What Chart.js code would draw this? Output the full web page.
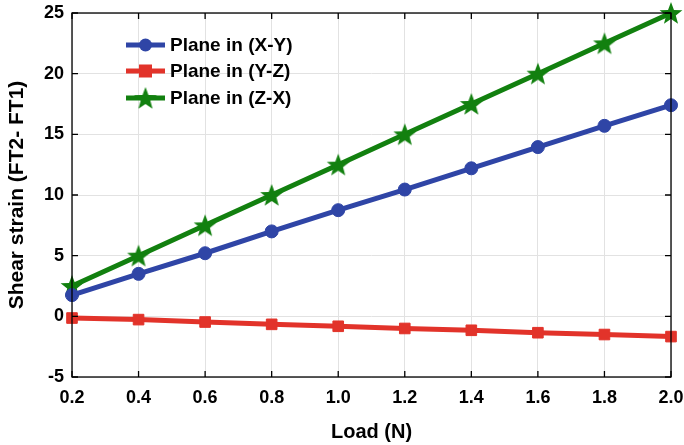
<!DOCTYPE html>
<html><head><meta charset="utf-8">
<script src="https://cdn.jsdelivr.net/npm/chart.js@4/dist/chart.umd.min.js"></script>
<style>html,body{margin:0;padding:0;background:#fff}#wrap{width:684px;height:445px}</style>
</head><body><div id="wrap"><canvas id="c" width="684" height="445"></canvas></div>
<script>
const loads = [0.2,0.4,0.6,0.8,1.0,1.2,1.4,1.6,1.8,2.0];
const planeXY = [1.75,3.5,5.2,7.0,8.75,10.45,12.2,13.95,15.7,17.4];
const planeYZ = [-0.14,-0.27,-0.47,-0.66,-0.82,-1.0,-1.15,-1.35,-1.5,-1.67];
const planeZX = [2.5,5.0,7.5,10.0,12.5,15.0,17.5,20.0,22.5,25.0];
const seriesNames = ['Plane in (X-Y)','Plane in (Y-Z)','Plane in (Z-X)'];
const xTitle = 'Load (N)';
const yTitle = 'Shear strain (FT2- FT1)';

const BLUE='#2f45a6', RED='#e2332a', GREEN='#12800f';
const FONT='"Liberation Sans", Arial, sans-serif';

function makeStar(color, R){
  const s=Math.ceil(R*2+2), c=document.createElement('canvas');
  c.width=s;c.height=s;const g=c.getContext('2d');
  const cx=s/2, cy=s/2+1, r=R*0.42;
  g.beginPath();
  for(let i=0;i<10;i++){
    const a=-Math.PI/2+i*Math.PI/5, rr=i%2?r:R;
    g.lineTo(cx+rr*Math.cos(a), cy+rr*Math.sin(a));
  }
  g.closePath();g.fillStyle=color;g.fill();
  return c;
}
const star=makeStar(GREEN,12);

const pts=a=>a.map((v,i)=>({x:loads[i],y:v}));

const frame={
  id:'frame',
  afterDraw(chart){
    const {ctx,chartArea:a,scales:{x,y}}=chart;
    ctx.save();
    ctx.strokeStyle='#000';ctx.lineWidth=1.3;
    ctx.strokeRect(a.left,a.top,a.right-a.left,a.bottom-a.top);
    const L=6;
    ctx.beginPath();
    x.ticks.forEach(t=>{const p=x.getPixelForValue(t.value);
      ctx.moveTo(p,a.bottom);ctx.lineTo(p,a.bottom-L);
      ctx.moveTo(p,a.top);ctx.lineTo(p,a.top+L);});
    y.ticks.forEach(t=>{const p=y.getPixelForValue(t.value);
      ctx.moveTo(a.left,p);ctx.lineTo(a.left+L,p);
      ctx.moveTo(a.right,p);ctx.lineTo(a.right-L,p);});
    ctx.stroke();
    // legend
    const lx=126, lw=39, ty=[45,71,98];
    chart.data.datasets.forEach((d,i)=>{
      const yy=ty[i];
      ctx.strokeStyle=d.borderColor;ctx.lineWidth=5;
      ctx.beginPath();ctx.moveTo(lx,yy);ctx.lineTo(lx+lw,yy);ctx.stroke();
      const mx=lx+lw/2;
      if(d.pointStyle==='circle'){ctx.fillStyle=d.borderColor;ctx.beginPath();ctx.arc(mx,yy,6.5,0,Math.PI*2);ctx.fill();}
      else if(d.pointStyle==='rect'){ctx.fillStyle=d.borderColor;ctx.fillRect(mx-6.5,yy-6.5,13,13);}
      else {ctx.drawImage(d.pointStyle,mx-d.pointStyle.width/2,yy-d.pointStyle.height/2);}
      ctx.fillStyle='#000';ctx.font='bold 19px '+FONT;ctx.textBaseline='middle';ctx.textAlign='left';
      ctx.fillText(d.label,lx+lw+5,yy+1);
    });
    ctx.restore();
  }
};

new Chart(document.getElementById('c'),{
  type:'line',
  data:{datasets:[
    {label:seriesNames[0],data:pts(planeXY),borderColor:BLUE,backgroundColor:BLUE,borderWidth:5,pointStyle:'circle',pointRadius:6.5,pointBorderWidth:1,pointBackgroundColor:BLUE,pointBorderColor:BLUE,clip:false},
    {label:seriesNames[1],data:pts(planeYZ),borderColor:RED,backgroundColor:RED,borderWidth:5,pointStyle:'rect',pointRadius:7.5,pointBorderWidth:1,pointBackgroundColor:RED,pointBorderColor:RED,clip:false},
    {label:seriesNames[2],data:pts(planeZX),borderColor:GREEN,backgroundColor:GREEN,borderWidth:5,pointStyle:star,pointRadius:12,clip:false}
  ]},
  options:{
    responsive:false,animation:false,
    layout:{autoPadding:false,padding:{top:13,right:13,left:0,bottom:0}},
    plugins:{legend:{display:false},tooltip:{enabled:false}},
    scales:{
      x:{type:'linear',min:0.2,max:2.0,
        afterBuildTicks(s){s.ticks=loads.map(v=>({value:v}));},
        ticks:{callback:v=>v.toFixed(1),font:{family:FONT,size:18,weight:'bold'},color:'#000',padding:10,maxRotation:0},
        grid:{color:'#e2e2e2',lineWidth:1,drawTicks:false},border:{display:false},
        title:{display:true,text:xTitle,font:{family:FONT,size:20,weight:'bold'},color:'#000',padding:{top:0,bottom:1}},
        afterFit(s){s.height=68;s.paddingLeft=0;s.paddingRight=0;}
      },
      y:{min:-5,max:25,
        ticks:{stepSize:5,font:{family:FONT,size:18,weight:'bold'},color:'#000',padding:8},
        grid:{color:'#e2e2e2',lineWidth:1,drawTicks:false},border:{display:false},
        title:{display:true,text:yTitle,font:{family:FONT,size:21,weight:'bold'},color:'#000',padding:{top:5,bottom:0}},
        afterFit(s){s.width=72;s.paddingTop=0;s.paddingBottom=0;}
      }
    }
  },
  plugins:[frame]
});
</script></body></html>
